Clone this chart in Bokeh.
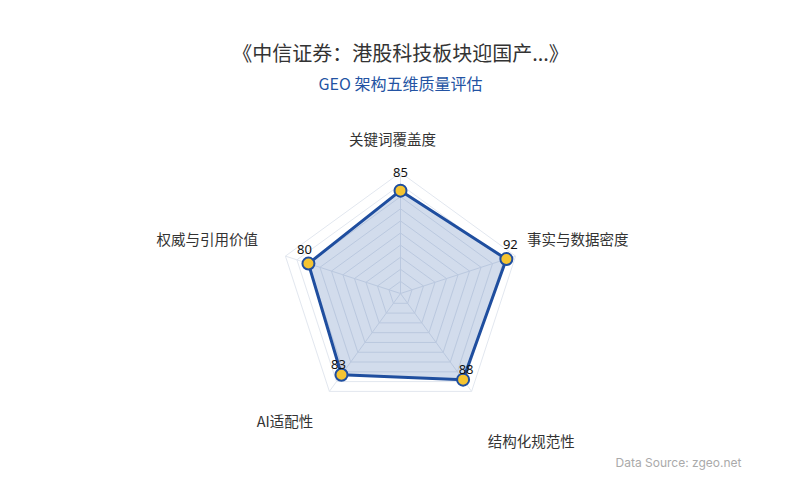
import numpy as np
from bokeh.core.properties import value
from bokeh.embed import file_html
from bokeh.models import ColumnDataSource, Label, Range1d
from bokeh.plotting import figure
from bokeh.resources import INLINE

# --- chart data -------------------------------------------------------------
title_text = "《中信证券：港股科技板块迎国产...》"
subtitle_text = "GEO 架构五维质量评估"
source_text = "Data Source: zgeo.net"
categories = ["关键词覆盖度", "事实与数据密度", "结构化规范性", "AI适配性", "权威与引用价值"]
scores = [85, 92, 88, 83, 80]
max_score = 100
ring_levels = [10, 20, 30, 40, 50, 60, 70, 80, 90, 100]

# --- layout (page pixels) ---------------------------------------------------
W, H = 784, 484
OX, OY = 0, 0              # where the figure's top-left lands on the page
CX, CY = 400, 293          # radar centre on the page
R_PX = 121                 # pixels for max_score
K = max_score / R_PX       # data units per pixel

BLUE = "#1f4e9f"
YELLOW = "#f5c431"
GRID = "#e2e7ef"
CJK = value("Noto Sans CJK SC")

# value label nudges (screen px) and category label placement
value_dx = [0, 4, 3, -3, -4]
value_dy = [-18, -15, -10, -10, -14]
cat_align = ["center", "left", "left", "right", "right"]
cat_dx = [-8, 0, 9, -9, -16]
cat_dy = [-22, -14, 39, 19, -14]
LABEL_R = 110


def page(px, py):
    """Page pixel position -> data coordinates."""
    return (px - CX) * K, (CY - py) * K


n = len(categories)
theta = np.deg2rad(90 - 360 / n * np.arange(n))
cos, sin = np.cos(theta), np.sin(theta)

p = figure(
    width=W,
    height=H,
    x_range=Range1d((OX - CX) * K, (OX + W - CX) * K),
    y_range=Range1d((CY - OY - H) * K, (CY - OY) * K),
    output_backend="svg",
    toolbar_location=None,
    min_border=0,
    background_fill_color="white",
    border_fill_color="white",
)
p.axis.visible = False
p.grid.visible = False
p.outline_line_color = None

# rings and spokes
ring_xs = [list(lv * cos) + [lv * cos[0]] for lv in ring_levels]
ring_ys = [list(lv * sin) + [lv * sin[0]] for lv in ring_levels]
p.multi_line(ring_xs, ring_ys, line_color=GRID, line_width=1)
p.multi_line(
    [[0, max_score * c] for c in cos],
    [[0, max_score * s] for s in sin],
    line_color=GRID,
    line_width=1,
)

vals = np.array(scores, dtype=float)
src = ColumnDataSource(
    dict(
        x=vals * cos,
        y=vals * sin,
        label=[str(v) for v in scores],
        dx=value_dx,
        dy=value_dy,
    )
)
p.patch(
    "x", "y", source=src,
    fill_color=BLUE, fill_alpha=0.2,
    line_color=BLUE, line_width=3, line_join="round",
)
p.scatter(
    "x", "y", source=src, size=12, marker="circle",
    fill_color=YELLOW, line_color=BLUE, line_width=2,
)
p.text(
    "x", "y", text="label", source=src,
    x_offset="dx", y_offset="dy",
    text_align="center", text_baseline="middle",
    text_font=value("Noto Sans"), text_font_size="13px", text_color="#111111",
)

# category names
for i, name in enumerate(categories):
    lx = LABEL_R * cos[i] + cat_dx[i] * K
    ly = LABEL_R * sin[i] - cat_dy[i] * K
    p.add_layout(Label(
        x=lx, y=ly, text=name,
        text_align=cat_align[i], text_baseline="middle",
        text_font="Noto Sans CJK SC", text_font_size="14.5px", text_color="#333333",
    ))

# titles and source note
tx, ty = page(400, 52)
p.add_layout(Label(
    x=tx, y=ty, text=title_text, text_align="center", text_baseline="middle",
    text_font="Noto Sans CJK SC", text_font_size="20px", text_color="#333333",
))
sx, sy = page(400, 82)
p.add_layout(Label(
    x=sx, y=sy, text=subtitle_text, text_align="center", text_baseline="middle",
    text_font="Noto Sans CJK SC", text_font_size="16px", text_color="#2353a3",
))
dx_, dy_ = page(741, 462)
p.add_layout(Label(
    x=dx_, y=dy_, text=source_text, text_align="right", text_baseline="middle",
    text_font="Inter", text_font_size="12px", text_color="#aaaaaa",
))

open("out.html", "w").write(file_html(p, INLINE))
